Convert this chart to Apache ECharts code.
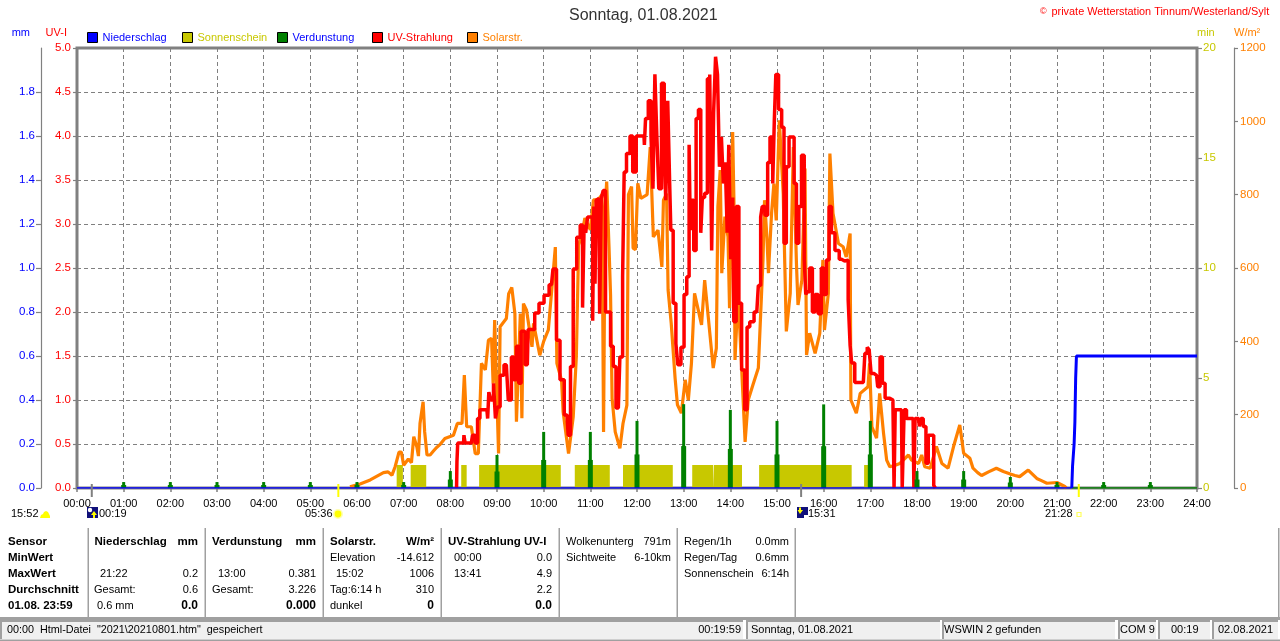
<!DOCTYPE html>
<html><head><meta charset="utf-8">
<style>html,body{margin:0;padding:0;background:#fff}#c{width:1280px;height:641px}</style>
<script src="https://cdn.jsdelivr.net/npm/echarts@6/dist/echarts.min.js"></script>
</head><body><div id="c"></div>
<script>
const hourLabels=['00:00','01:00','02:00','03:00','04:00','05:00','06:00','07:00','08:00','09:00','10:00','11:00','12:00','13:00','14:00','15:00','16:00','17:00','18:00','19:00','20:00','21:00','22:00','23:00','24:00'];
const seriesNames=['Niederschlag','Sonnenschein','Verdunstung','UV-Strahlung','Solarstr.'];
const rainMinutes=[1279,1280,1282,1283,1284,1285,1440];
const rainValues=[0,0.1,0.2,0.3,0.5,0.6,0.6];
const sunStarts=[411,429,494,517,640,702,791,819,877,1012];
const sunEnds=[419,449,501,622,685,766,818,855,996,1018];
const sunMinutesPerInterval=[1.05,1.05,1.05,1.05,1.05,1.05,1.05,1.05,1.05,1.05];
const evapMinutes=[60,120,180,240,300,360,420,480,540,600,660,720,780,840,900,960,1020,1080,1140,1200,1260,1320,1380];
const evapValues=[.027,.027,.027,.027,.027,.027,.027,.077,.15,.255,.255,.305,.381,.355,.305,.38,.305,.077,.077,.05,.027,.027,.027];
const solarMinutes=[351,364,377,394,400,405,409,414,417,420,426,430,433,437,439,441,445,447,450,454,458,462,467,473,479,484,489,495,498,501,507,512,516,520,525,529,533,535,537,542,544,552,555,559,563,565,570,572,574,578,585,587,595,600,606,610,615,617,623,625,632,638,642,645,649,653,660,664,670,675,677,679,681,684,686,688,692,698,702,707,709,713,715,718,721,725,733,737,741,747,752,754,758,760,764,769,772,777,782,786,790,794,803,807,818,822,824,827,829,833,837,839,843,845,846,850,859,863,869,876,882,884,887,889,893,896,899,903,908,910,912,917,921,925,927,932,936,938,942,949,955,959,961,966,968,972,979,985,989,994,995,1002,1007,1017,1019,1022,1028,1032,1037,1041,1045,1052,1058,1069,1073,1082,1086,1090,1097,1105,1112,1120,1127,1135,1140,1148,1152,1158,1163,1172,1182,1191,1200,1206,1212,1223,1234,1240,1247,1260,1270,1272];
const solarValues=[3,11,22,42,44,35,58,98,98,62,79,69,140,112,87,176,235,153,90,90,100,110,119,135,140,144,176,176,308,167,167,94,94,340,322,403,408,285,458,94,440,462,530,547,476,181,476,190,503,485,385,449,362,400,431,531,657,340,294,208,94,194,358,663,690,736,704,786,786,800,153,760,836,658,527,244,153,108,176,226,800,822,654,650,831,790,800,930,685,703,603,785,803,540,449,299,227,204,295,240,340,531,445,567,327,381,767,867,586,740,685,490,971,740,349,531,126,240,281,327,622,785,685,586,749,830,730,1003,803,612,427,531,930,612,499,567,871,363,422,367,422,622,431,531,912,749,667,658,630,694,240,204,258,276,340,167,136,258,149,76,58,62,67,90,76,67,90,58,54,113,67,54,113,172,95,81,54,42,34,44,54,45,38,34,31,49,26,20,13,15,4,0];
const uvMinutes=[488,489,490,497,498,500,507,510,514,516,520,527,529,530,534,537,539,542,546,552,557,560,563,567,569,573,579,581,586,591,597,604,610,614,619,623,630,633,636,640,645,649,651,653,655,658,662,664,665,667,668,671,673,675,678,681,685,687,692,694,696,700,703,704,709,713,716,722,729,730,732,737,739,742,744,747,749,754,756,758,761,763,764,769,771,774,779,782,786,788,789,791,795,797,801,803,805,809,812,815,817,820,822,825,827,830,832,835,837,839,842,844,845,850,852,857,860,863,867,874,878,880,882,887,889,893,896,897,900,904,908,910,914,917,921,923,927,929,934,936,938,940,944,947,951,955,959,961,966,968,972,977,983,987,989,994,994,998,1002,1011,1015,1017,1020,1022,1028,1031,1034,1037,1041,1049,1052,1052,1060,1062,1065,1068,1075,1077,1078,1082,1084,1086,1090,1093,1096,1100,1103,1104];
const uvValues=[0,.30,.51,.51,.60,.51,.51,.60,.51,.79,.89,.89,.79,1.09,1.0,1.19,.79,.92,1.28,1.40,1.0,1.49,1.23,1.61,1.19,1.78,1.40,1.80,1.80,1.99,2.10,2.19,2.31,2.49,1.68,1.23,.83,.60,1.38,2.49,2.85,2.99,2.05,2.99,2.9,3.08,3.08,1.9,3.2,2.32,3.27,3.29,1.98,3.29,3.38,2.0,2.0,1.61,1.38,.91,.91,1.49,2.4,3.59,3.8,4.0,3.59,4.0,4.0,3.9,4.2,4.4,4.0,3.4,4.7,4.0,3.4,4.6,3.84,3.27,4.4,3.46,2.93,2.1,1.64,1.4,1.6,2.2,2.4,3.9,2.93,3.27,2.7,4.2,4.3,2.9,3.3,3.35,4.65,4.7,2.7,4.26,4.9,4.7,3.65,3.99,3.46,3.7,2.9,3.9,2.6,3.3,1.89,3.2,2.1,1.34,.89,1.83,1.89,2.0,2.3,3.08,3.2,3.1,3.7,3.99,3.46,4.16,4.7,4.3,4.1,2.78,3.65,3.99,3.99,3.46,2.78,3.2,3.78,2.6,2.2,2.23,2.5,2.0,2.2,1.98,2.5,2.2,2.59,3.2,2.9,2.7,2.6,2.58,2.59,2.14,1.62,1.42,1.2,1.2,1.53,1.6,1.57,1.3,1.28,1.15,1.49,1.19,1.02,1.0,0,.89,.89,0,.89,.79,.79,0,.79,.79,.7,.79,.7,.28,.6,.6,.03,0];
const dayMarkMinutes=[19,336,931,1288];
const dayMarkKinds=['moon','sun','moon','sun'];
const headerRow=['Sensor','Niederschlag','mm','Verdunstung','mm','Solarstr.','W/m²','UV-Strahlung UV-I'];
const sensorLabels=['Sensor','MinWert','MaxWert','Durchschnitt','01.08. 23:59'];
const rainLabels=['','21:22','Gesamt:','0.6 mm'];
const rainStats=['','0.2','0.6','0.0'];
const evapLabels=['','13:00','Gesamt:',''];
const evapStats=['','0.381','3.226','0.000'];
const solarLabels=['Elevation','15:02','Tag:6:14 h','dunkel'];
const solarStats=['-14.612','1006','310','0'];
const uvLabels=['00:00','13:41','',''];
const uvStats=['0.0','4.9','2.2','0.0'];
const cloudLabels=['Wolkenunterg','Sichtweite'];
const cloudStats=['791m','6-10km'];
const dayLabels=['Regen/1h','Regen/Tag','Sonnenschein'];
const dayStats=['0.0mm','0.6mm','6:14h'];

const RED='#ff0000',ORANGE='#ff8000',GREEN='#008000',BLUE='#0000ff',OLIVE='#c8c800',GRAY='#808080',FRAME='#a0a0a0';
const FONT='"Liberation Sans",Arial,sans-serif';
const zip=(a,b)=>a.map((x,i)=>[x,b[i]]);
const sunPts=[];
sunStarts.forEach((s,i)=>{sunPts.push([s,0],[s,sunMinutesPerInterval[i]],[sunEnds[i],sunMinutesPerInterval[i]],[sunEnds[i],0]);});

const g=[];
function T(x,y,text,o={}){g.push({type:'text',x,y,silent:true,z:20,style:{text,fill:o.fill||'#000',font:(o.bold?'bold ':'')+(o.size||11)+'px '+FONT,align:o.align||'left',verticalAlign:'middle'}});}
function R(x,y,w,h,fill,z){g.push({type:'rect',silent:true,z:z||10,shape:{x,y,width:w,height:h},style:{fill}});}
[88,205,323,441,559,677,795].forEach(x=>R(x-.5,528,1.5,90,FRAME));
R(1278,528,1.5,90,FRAME);
R(0,617,1280,3,FRAME);
R(0,639.5,1280,1.5,FRAME);
[[0,743],[746,940],[942,1115],[1118,1156],[1158,1210],[1212,1278]].forEach(b=>{
 R(b[0],621,b[1]-b[0],18,'#f0f0f0',9);
 R(b[0],620,b[1]-b[0],2,FRAME,10);
 R(b[0],620,2,19,FRAME,10);
});
const rowY=[542,558,574,590,606];
const HB=11.5;
sensorLabels.forEach((s,i)=>T(8,rowY[i],s,{bold:true,size:HB}));
T(94.5,rowY[0],headerRow[1],{bold:true,size:HB});T(198,rowY[0],headerRow[2],{bold:true,size:HB,align:'right'});
T(212,rowY[0],headerRow[3],{bold:true,size:HB});T(316,rowY[0],headerRow[4],{bold:true,size:HB,align:'right'});
T(330,rowY[0],headerRow[5],{bold:true,size:HB});T(434,rowY[0],headerRow[6],{bold:true,size:HB,align:'right'});
T(448,rowY[0],headerRow[7],{bold:true,size:HB});
const lab=[[rainLabels,94,100,rainStats,198],[evapLabels,212,218,evapStats,316]];
lab.forEach(c=>{c[0].forEach((s,i)=>{if(s)T(/:\d/.test(s)&&!/Ges/.test(s)?c[2]:(/mm/.test(s)?97:c[1]),rowY[i+1],s);});
 c[3].forEach((s,i)=>{if(s)T(c[4],rowY[i+1],s,{align:'right',bold:i===3,size:i===3?12:11});});});
solarLabels.forEach((s,i)=>T(i===1?336:330,rowY[i+1],s));
solarStats.forEach((s,i)=>T(434,rowY[i+1],s,{align:'right',bold:i===3,size:i===3?12:11}));
uvLabels.forEach((s,i)=>{if(s)T(454,rowY[i+1],s);});
uvStats.forEach((s,i)=>T(552,rowY[i+1],s,{align:'right',bold:i===3,size:i===3?12:11}));
cloudLabels.forEach((s,i)=>T(566,rowY[i],s));
cloudStats.forEach((s,i)=>T(671,rowY[i],s,{align:'right'}));
dayLabels.forEach((s,i)=>T(684,rowY[i],s));
dayStats.forEach((s,i)=>T(789,rowY[i],s,{align:'right'}));
T(7,630,'00:00  Html-Datei  "2021\\20210801.htm"  gespeichert',{size:10.8});
T(741,630,'00:19:59',{align:'right',size:11});
T(751,630,'Sonntag, 01.08.2021',{size:11});
T(944,630,'WSWIN 2 gefunden',{size:11});
T(1120,630,'COM 9',{size:11});
T(1171,630,'00:19',{size:11});
T(1218,630,'02.08.2021',{size:11});
T(1040,12,'©',{fill:RED,size:9});
T(1051.5,12,'private Wetterstation Tinnum/Westerland/Sylt',{fill:RED,size:10.9});
T(11,514,'15:52',{size:11});
g.push({type:'polygon',silent:true,z:20,shape:{points:[[40,518],[41,515],[43,514],[44,512],[46,511],[48,512],[49,514],[50,516],[50,518]]},style:{fill:'#ffff00'}});
R(87,507,11,11,'#10107a',12);
g.push({type:'circle',silent:true,z:13,shape:{cx:90,cy:510,r:2.2},style:{fill:'#fff'}});
g.push({type:'polygon',silent:true,z:13,shape:{points:[[94,511],[97,515],[95,515],[95,518],[93,518],[93,515],[91,515]]},style:{fill:'#ffff00'}});
T(99,514,'00:19');
T(305,514,'05:36');
g.push({type:'circle',silent:true,z:13,shape:{cx:338,cy:514,r:5},style:{fill:'#ffffb0'}});
g.push({type:'circle',silent:true,z:14,shape:{cx:338,cy:514,r:3.4},style:{fill:'#ffff00'}});
R(797,507,11,11,'#10107a',12);
g.push({type:'polygon',silent:true,z:13,shape:{points:[[800,514],[797.5,510],[799,510],[799,507.5],[801,507.5],[801,510],[803,510]]},style:{fill:'#ffff00'}});
R(804,515,4,3,'#fff',13);
T(808,514,'15:31');
T(1045,514,'21:28');
g.push({type:'rect',silent:true,z:13,shape:{x:1077,y:512.5,width:4,height:4},style:{fill:'#fff',stroke:'#ffff60',lineWidth:1.2}});

const evapItem=(p,api)=>{
 const t=api.value(0),v=api.value(1),a=api.coord([t,0]),b=api.coord([t,v]),c=api.coord([t,v/2]);
 return {type:'group',children:[
  {type:'rect',shape:{x:a[0]-2.5,y:c[1],width:5,height:a[1]-c[1]},style:{fill:GREEN}},
  {type:'rect',shape:{x:a[0]-1.5,y:b[1],width:3,height:a[1]-b[1]},style:{fill:GREEN}}]};
};
const markItem=(p,api)=>{
 const a=api.coord([api.value(0),0]);
 return {type:'rect',shape:{x:a[0]-1,y:a[1]-4,width:2,height:13},style:{fill:dayMarkKinds[p.dataIndex]==='sun'?'#ffff00':GRAY}};
};
const colors=[BLUE,OLIVE,GREEN,RED,ORANGE];
const textColors=[BLUE,OLIVE,BLUE,RED,ORANGE];
const yBase={min:0,splitLine:{show:false},axisLine:{show:true,lineStyle:{width:1.5}},axisTick:{show:true,length:4},nameGap:10};
const lab2=(c,f)=>({color:c,fontFamily:FONT,fontSize:11.5,margin:6,formatter:f||(v=>String(v))});
const chart=echarts.init(document.getElementById('c'),null,{renderer:'canvas'});
chart.setOption({
 animation:false,backgroundColor:'#fff',
 title:{text:'Sonntag, 01.08.2021',left:564,top:3,textStyle:{fontFamily:FONT,fontSize:16,fontWeight:'normal',color:'#333'}},
 legend:seriesNames.map((n,i)=>({data:[{name:n,icon:'rect',itemStyle:{color:colors[i],borderColor:'#000',borderWidth:1}}],left:87+95*i,top:32,padding:0,itemWidth:10,itemHeight:10,selectedMode:false,textStyle:{color:textColors[i],fontFamily:FONT,fontSize:11,padding:[1,0,0,0]}})),
 grid:{left:77,right:83,top:48,bottom:153,show:true,borderColor:GRAY,borderWidth:3,backgroundColor:'transparent'},
 xAxis:{type:'value',min:0,max:1440,interval:60,
  axisLine:{show:false},axisTick:{show:true,length:4,lineStyle:{color:GRAY,width:1.5}},
  axisLabel:{color:'#000',fontFamily:FONT,fontSize:11,margin:10,formatter:v=>hourLabels[v/60],hideOverlap:false,showMinLabel:true,showMaxLabel:true},
  splitLine:{show:true,lineStyle:{color:GRAY,type:[4,3],width:1}}},
 yAxis:[
  {...yBase,type:'value',position:'left',max:5,interval:.5,name:'UV-I',nameTextStyle:{color:RED,fontFamily:FONT,fontSize:11,align:'right',padding:[0,10,0,0]},
   axisLine:{show:false},axisTick:{show:true,length:4,lineStyle:{color:GRAY,width:1.2}},axisLabel:lab2(RED,v=>v.toFixed(1)),
   splitLine:{show:true,lineStyle:{color:GRAY,type:[4,3],width:1}}},
  {...yBase,type:'value',position:'left',offset:36,max:2,interval:.2,name:'mm',nameTextStyle:{color:BLUE,fontFamily:FONT,fontSize:11,align:'right',padding:[0,11,0,0]},
   axisLine:{show:true,lineStyle:{color:GRAY,width:1.2}},axisTick:{show:true,length:5,lineStyle:{color:GRAY,width:1.2}},axisLabel:{...lab2(BLUE,v=>v.toFixed(1)),showMaxLabel:false}},
  {...yBase,type:'value',position:'right',max:20,interval:5,name:'min',nameTextStyle:{color:OLIVE,fontFamily:FONT,fontSize:11,align:'left',padding:[0,0,0,0]},
   axisLine:{show:false},axisTick:{show:true,length:5,lineStyle:{color:GRAY,width:1.2}},axisLabel:lab2(OLIVE)},
  {...yBase,type:'value',position:'right',offset:37,max:1200,interval:200,name:'W/m²',nameTextStyle:{color:ORANGE,fontFamily:FONT,fontSize:11,align:'left',padding:[0,0,0,0]},
   axisLine:{show:true,lineStyle:{color:GRAY,width:1.2}},axisTick:{show:true,length:4,lineStyle:{color:GRAY,width:1.2}},axisLabel:lab2(ORANGE)}
 ],
 series:[
  {name:seriesNames[1],type:'line',yAxisIndex:2,z:2,data:sunPts,showSymbol:false,lineStyle:{width:0},itemStyle:{color:OLIVE},areaStyle:{color:OLIVE,opacity:1}},
  {name:seriesNames[4],type:'line',yAxisIndex:3,z:3,data:zip(solarMinutes,solarValues),showSymbol:false,lineStyle:{color:ORANGE,width:3.2},itemStyle:{color:ORANGE}},
  {name:seriesNames[3],type:'line',step:'middle',yAxisIndex:0,z:4,data:zip(uvMinutes,uvValues),showSymbol:false,lineStyle:{color:RED,width:3.5},itemStyle:{color:RED}},
  {name:seriesNames[2],type:'custom',yAxisIndex:1,z:5,data:zip(evapMinutes,evapValues),renderItem:evapItem,encode:{x:0,y:1},itemStyle:{color:GREEN}},
  {name:'Verdunstung Basis',type:'line',yAxisIndex:1,z:5,data:[[1279,0],[1440,0]],showSymbol:false,lineStyle:{color:GREEN,width:1.3}},
  {name:'Niederschlag Basis',type:'line',yAxisIndex:1,z:6,data:[[0,0],[1279,0]],showSymbol:false,lineStyle:{color:BLUE,width:1.3}},
  {name:seriesNames[0],type:'line',yAxisIndex:1,z:6,data:zip(rainMinutes,rainValues),showSymbol:false,lineStyle:{color:BLUE,width:3},itemStyle:{color:BLUE}},
  {name:'Sonnenstand',type:'custom',yAxisIndex:1,z:7,clip:false,data:dayMarkMinutes.map(m=>[m,0]),renderItem:markItem,encode:{x:0,y:1}}
 ],
 graphic:{elements:g}
});
</script></body></html>
